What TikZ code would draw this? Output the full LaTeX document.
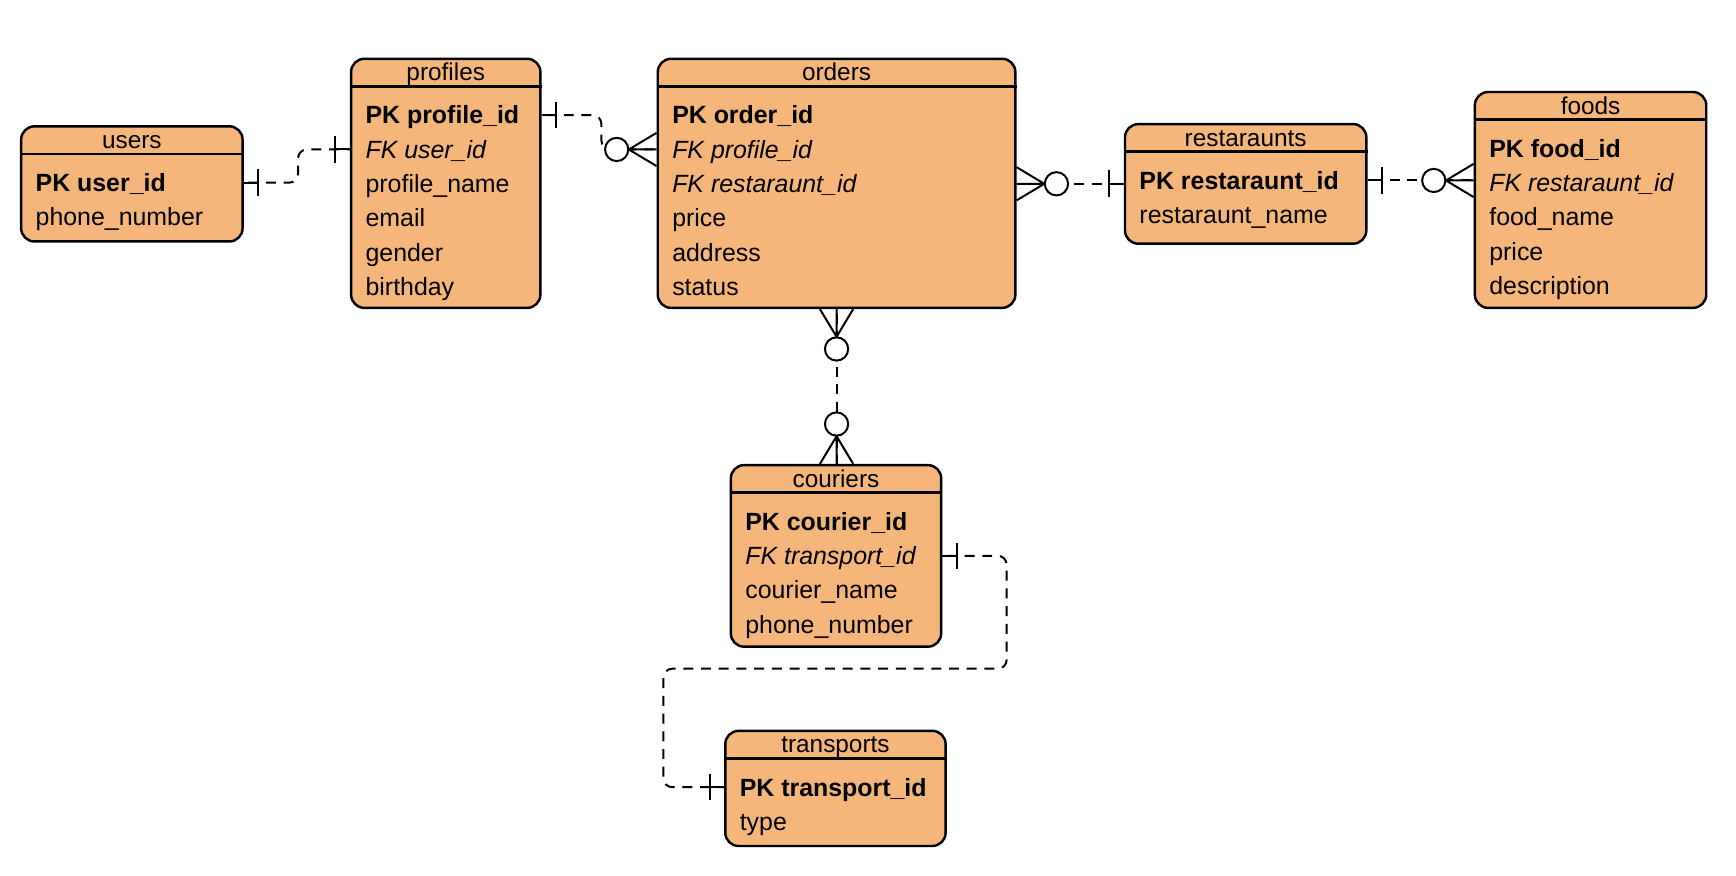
\documentclass[tikz,border=0pt]{standalone}
\usepackage{fontspec}
\setmainfont{Liberation Sans}
\usetikzlibrary{positioning}
\definecolor{entfill}{RGB}{244,182,122}
\tikzset{
  entbox/.style={draw, fill=entfill, line width=2.2pt, rounded corners=12pt, inner sep=0pt},
  enttitle/.style={anchor=base, inner sep=0pt, font=\fontsize{22}{26}\selectfont},
  entrow/.style={anchor=base west, inner sep=0pt, text height=16pt, text depth=0pt, font=\fontsize{22.5}{27}\selectfont},
  rel/.style={line width=1.8pt, dash pattern=on 9pt off 7pt, dash phase=12pt, rounded corners=8pt},
  erend/.style={line width=1.8pt, solid},
  pics/erone/.style={code={
    \draw[erend] (0,0) -- (13pt,0) (13pt,-12pt) -- (13pt,12pt);
  }},
  pics/ermany/.style={code={
    \draw[erend] (0,15pt) -- (25pt,0) -- (0,-15pt) (0,0) -- (25pt,0);
    \draw[erend, fill=white] (36pt,0) circle (10.5pt);
  }}
}
% name, title, x, y, width, height, rows
\newcommand{\entity}[7]{%
  \node[entbox, minimum width=#5pt, minimum height=#6pt, anchor=north west] (#1) at (#3,#4) {};
  \node[enttitle] (#1-t) at ([yshift=-21pt]#1.north) {#2};
  \draw[line width=2.2pt] ([yshift=-26pt]#1.north west) -- ([yshift=-26pt]#1.north east);
  \foreach \entrowtext [count=\ri] in {#7} {
    \pgfmathsetmacro\rowy{60+31*(\ri-1)}
    \node[entrow] (#1-\ri) at ([xshift=14pt, yshift=-\rowy pt]#1.north west) {\entrowtext};
  }%
}

\begin{document}
\begin{tikzpicture}[x=1pt, y=-1pt]
    \useasboundingbox (0,0) rectangle (1568,791);

    \entity{users}{users}{18}{113}{200}{104}{\textbf{PK user\_id}, phone\_number}
    \entity{profiles}{profiles}{316}{52}{171}{225}{\textbf{PK profile\_id}, \textit{FK user\_id}, profile\_name, email, gender, birthday}
    \entity{orders}{orders}{593}{52}{323}{225}{\textbf{PK order\_id}, \textit{FK profile\_id}, \textit{FK restaraunt\_id}, price, address, status}
    \entity{restaraunts}{restaraunts}{1015}{111}{218}{108}{\textbf{PK restaraunt\_id}, restaraunt\_name}
    \entity{foods}{foods}{1331}{82}{209}{195}{\textbf{PK food\_id}, \textit{FK restaraunt\_id}, food\_name, price, description}
    \entity{couriers}{couriers}{659}{419}{190}{164}{\textbf{PK courier\_id}, \textit{FK transport\_id}, courier\_name, phone\_number}
    \entity{transports}{transports}{654}{659}{199}{104}{\textbf{PK transport\_id}, type}

    \draw[rel] (users-1 -| users.east) -- ++(49,0) |- (profiles-2 -| profiles.west);
    \pic at (users-1 -| users.east) {erone};
    \pic[rotate=180] at (profiles-2 -| profiles.west) {erone};

    \draw[rel] (profiles-1 -| profiles.east) -- ++(54,0) |- (orders-2 -| orders.west);
    \pic at (profiles-1 -| profiles.east) {erone};
    \pic[rotate=180] at (orders-2 -| orders.west) {ermany};

    \draw[rel] (orders-3 -| orders.east) -- (orders-3 -| restaraunts.west);
    \pic at (orders-3 -| orders.east) {ermany};
    \pic[rotate=180] at (orders-3 -| restaraunts.west) {erone};

    \draw[rel] (restaraunts-1 -| restaraunts.east) -- (restaraunts-1 -| foods.west);
    \pic at (restaraunts-1 -| restaraunts.east) {erone};
    \pic[rotate=180] at (restaraunts-1 -| foods.west) {ermany};

    \draw[rel] (orders.south) -- (orders.south |- couriers.north);
    \pic[rotate=-90] at (orders.south) {ermany};
    \pic[rotate=90] at (orders.south |- couriers.north) {ermany};

    \draw[rel] (couriers-2 -| couriers.east) -- ++(58,0) -- ++(0,102) -- ++(-310,0) |- (transports-1 -| transports.west);
    \pic at (couriers-2 -| couriers.east) {erone};
    \pic[rotate=180] at (transports-1 -| transports.west) {erone};
\end{tikzpicture}
\end{document}
